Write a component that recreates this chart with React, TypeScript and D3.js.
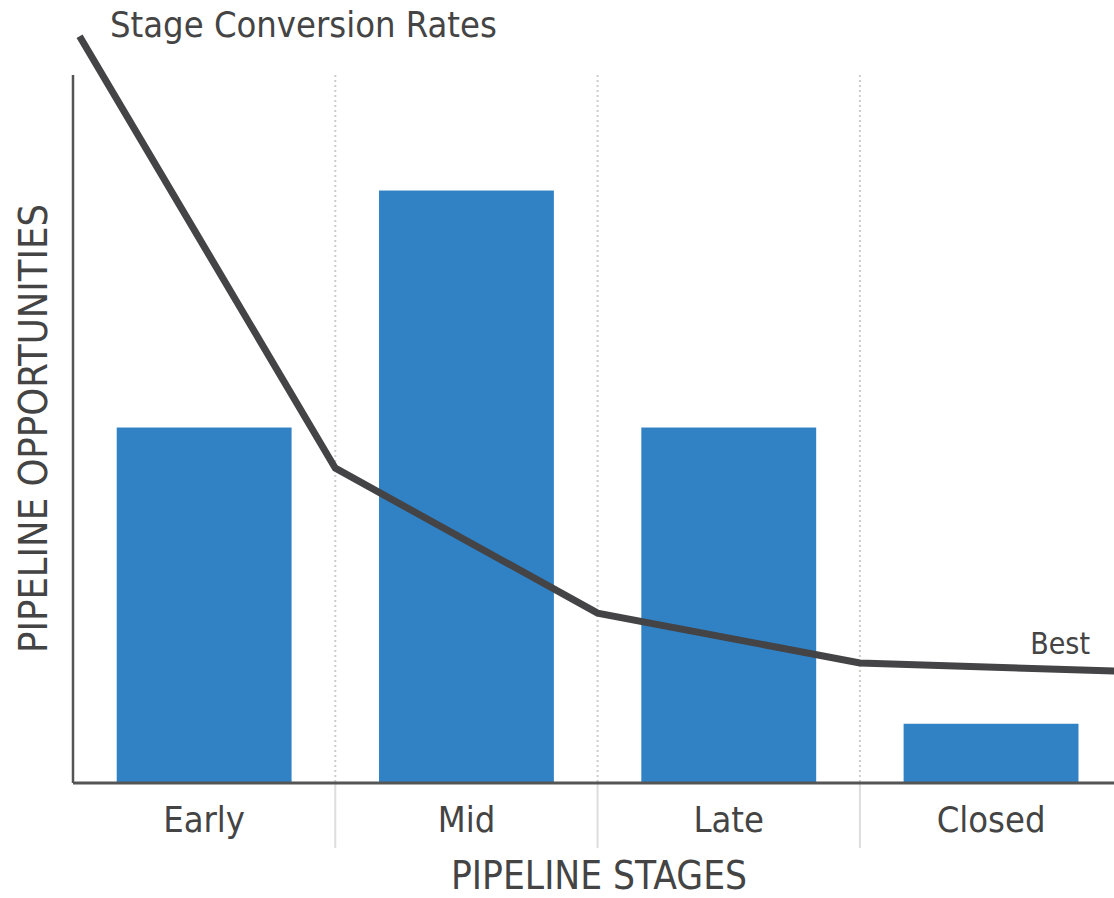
import React from "react";
import * as d3 from "d3";

const stages = ["Early", "Mid", "Late", "Closed"];
const opportunities = [6, 10, 6, 1];
// conversion rate line: position measured in stage boundaries, and rate (%)
const ratePositions = [0.025, 1, 2, 3, 4];
const conversionRates = [98.9, 41.7, 22.5, 15.9, 14.8];
const lineLabel = "Best";

const W = 1114;
const H = 898;
const FONT = "'DejaVu Sans Condensed', 'DejaVu Sans', sans-serif";
const TEXT = "#444";

export default function App() {
  const left = 73;
  const top = 75;
  const bottom = 783;
  const right = left + 4 * 262.3;

  const x = d3.scaleBand<string>().domain(stages).range([left, right]).paddingInner(1 / 3).paddingOuter(1 / 6);
  const y = d3.scaleLinear().domain([0, 11.95]).range([bottom, top]);
  const yRate = d3.scaleLinear().domain([0, 100]).range([bottom, 28]);
  const xBoundary = d3.scaleLinear().domain([0, stages.length]).range([left, right]);

  const line = d3
    .line<number>()
    .x((_, i) => xBoundary(ratePositions[i]))
    .y((d) => yRate(d));

  const boundaries = d3.range(1, stages.length);

  return (
    <svg width={W} height={H} style={{ position: "absolute", left: 0, top: 0, background: "#fff" }}>
      {/* dotted stage dividers inside the plot */}
      {boundaries.map((i) => (
        <line key={"g" + i} x1={xBoundary(i)} x2={xBoundary(i)} y1={top} y2={bottom} stroke="#ccc" strokeWidth={2} strokeDasharray="2,3" />
      ))}
      {/* solid separators between category labels */}
      {boundaries.map((i) => (
        <line key={"s" + i} x1={xBoundary(i)} x2={xBoundary(i)} y1={bottom} y2={848} stroke="#ddd" strokeWidth={2} />
      ))}
      {stages.map((s, i) => (
        <rect key={s} x={x(s)} y={y(opportunities[i])} width={x.bandwidth()} height={bottom - y(opportunities[i])} fill="#3182C5" />
      ))}
      <line x1={left} x2={left} y1={top} y2={bottom} stroke="#555" strokeWidth={2.5} />
      <line x1={left} x2={W} y1={bottom} y2={bottom} stroke="#555" strokeWidth={3} />
      <path d={line(conversionRates) ?? ""} fill="none" stroke="#444447" strokeWidth={7} strokeLinejoin="miter" />
      {stages.map((s) => (
        <text key={"t" + s} x={(x(s) ?? 0) + x.bandwidth() / 2} y={832} textAnchor="middle" fontFamily={FONT} fontSize={36} fill={TEXT}>
          {s}
        </text>
      ))}
      <text x={110} y={37} fontFamily={FONT} fontSize={36} fill={TEXT}>
        Stage Conversion Rates
      </text>
      <text x={1090} y={654} textAnchor="end" fontFamily={FONT} fontSize={30} fill={TEXT}>
        {lineLabel}
      </text>
      <text x={599} y={889} textAnchor="middle" fontFamily={FONT} fontSize={38.5} fill={TEXT}>
        PIPELINE STAGES
      </text>
      <text transform={`translate(47, 428.5) rotate(-90)`} textAnchor="middle" fontFamily={FONT} fontSize={39.5} fill={TEXT}>
        PIPELINE OPPORTUNITIES
      </text>
    </svg>
  );
}
